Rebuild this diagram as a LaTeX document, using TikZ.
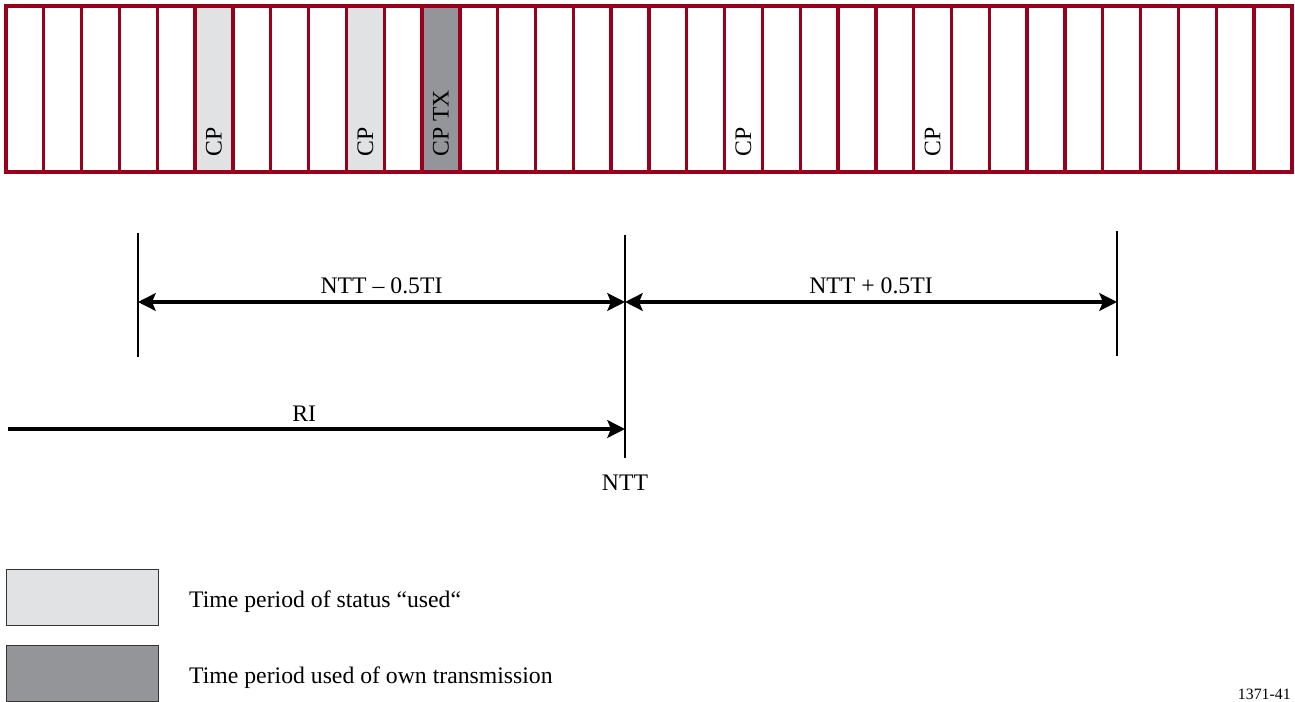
\documentclass[tikz,border=0pt]{standalone}
\usepackage{fontspec}
\setmainfont{Liberation Serif}
\usetikzlibrary{arrows.meta,positioning}
\definecolor{slotred}{RGB}{152,0,28}
\definecolor{usedgray}{RGB}{225,226,228}
\definecolor{owngray}{RGB}{147,149,152}
\begin{document}
\begin{tikzpicture}[x=0.02cm, y=-0.02cm, font=\fontsize{13.5}{16}\selectfont, line join=miter,
    slot/.style={draw=slotred, line width=1.9pt, fill=white, minimum width=0.7564cm, minimum height=3.32cm, inner sep=0pt, outer sep=0pt},
    free/.style={},
    used/.style={fill=usedgray},
    own/.style={fill=owngray},
    cp/.style={rotate=90, anchor=west, inner sep=0pt},
    tick/.style={line width=1.2pt},
    dim/.style={line width=2.1pt, {Stealth[length=10pt,width=10pt,inset=2pt]}-{Stealth[length=10pt,width=10pt,inset=2pt]}},
    ri/.style={line width=2.1pt, -{Stealth[length=10pt,width=10pt,inset=2pt]}},
    key/.style={draw=black!80, line width=0.6pt, minimum width=3.04cm, minimum height=1.12cm, inner sep=0pt}]
    \useasboundingbox (0,0) rectangle (1295,702);
    % time slots
    \foreach \i in {0,...,33}{
        \ifnum\i=11 \def\kind{own}\else\ifnum\i=5 \def\kind{used}\else\ifnum\i=9 \def\kind{used}\else\def\kind{free}\fi\fi\fi
        \node[slot,\kind] (s\i) at ({6+37.82*(\i+0.5)},89) {};
    }
    \node[cp] (cpa) at ([yshift=0.3cm]s5.south) {CP};
    \node[cp] (cpb) at ([yshift=0.3cm]s9.south) {CP};
    \node[cp] (cptx) at ([yshift=0.3cm]s11.south) {CP TX};
    \node[cp] (cpc) at ([yshift=0.3cm]s19.south) {CP};
    \node[cp] (cpd) at ([yshift=0.3cm]s24.south) {CP};
    % NTT marks
    \coordinate (ltop) at (138,233);
    \coordinate (lbot) at (138,357);
    \coordinate (ntop) at (625,235);
    \coordinate (nbot) at (625,458);
    \coordinate (rtop) at (1117,231);
    \coordinate (rbot) at (1117,356);
    \draw[tick] (ltop) -- (lbot);
    \draw[tick] (ntop) -- (nbot);
    \draw[tick] (rtop) -- (rbot);
    \coordinate (la) at (138,302);
    \coordinate (na) at (625,302);
    \coordinate (ra) at (1117,302);
    \draw[dim] (la) -- node[above] (minus) {NTT – 0.5TI} (na);
    \draw[dim] (na) -- node[above] (plus) {NTT + 0.5TI} (ra);
    \coordinate (ris) at (8,429);
    \coordinate (rie) at (625,429);
    \draw[ri] (ris) -- node[above, pos=0.48] (rilab) {RI} (rie);
    \node[below=0.22cm of nbot] (ntt) {NTT};
    % legend
    \node[key, fill=usedgray, anchor=north west] (keyused) at (6,569) {};
    \node[key, fill=owngray, anchor=north west] (keyown) at (6,645) {};
    \node[right=0.48cm of keyused, yshift=-0.08cm] (txtused) {Time period of status “used“};
    \node[right=0.48cm of keyown, yshift=-0.08cm] (txtown) {Time period used of own transmission};
    \node[font=\fontsize{9}{10}\selectfont, anchor=base east, inner sep=0pt] (fignum) at (1291,699) {1371-41};
\end{tikzpicture}
\end{document}
